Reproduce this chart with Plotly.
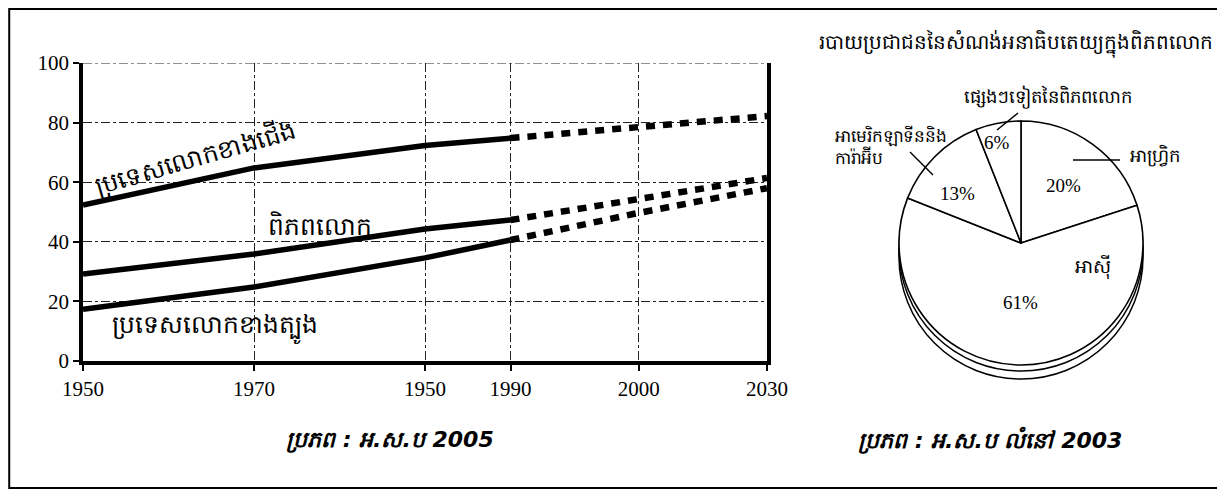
import plotly.graph_objects as go

# ---------------- data ----------------
tick_years = [1950, 1970, 1990, 2000, 2015, 2030]
tick_text = ["1950", "1970", "1950", "1990", "2000", "2030"]
y_ticks = [0, 20, 40, 60, 80, 100]

years_obs = [1950, 1970, 1990, 2000]
north_obs = [52.3, 64.8, 72.3, 74.8]
world_obs = [29.2, 35.9, 44.3, 47.3]
south_obs = [17.4, 24.8, 34.6, 40.6]

years_proj = [2000, 2015, 2030]
north_proj = [74.8, 78.5, 82.2]
world_proj = [47.3, 54.4, 61.4]
south_proj = [40.6, 49.7, 58.0]

line_labels = ["ប្រទេសលោកខាងជើង", "ពិភពលោក", "ប្រទេសលោកខាងត្បូង"]

pie_title = "របាយប្រជាជននៃសំណង់អនាធិបតេយ្យក្នុងពិភពលោក"
pie_labels = ["អាហ្វ្រិក", "អាស៊ី", "អាមេរិកឡាទីននិង<br>ការ៉ាអ៊ីប", "ផ្សេងៗទៀតនៃពិភពលោក"]
pie_values = [20, 61, 13, 6]

source_left = "ប្រភព : អ.ស.ប 2005"
source_right = "ប្រភព : អ.ស.ប លំនៅ 2003"

# ---------------- figure ----------------
# the page body adds an 8px offset; the figure fills the rest of the window
OX, OY = 8, 8
W, H = 1225 - OX, 495 - OY
def px(x):
    return (x - OX) / W
def py(y):
    return 1 - (y - OY) / H

SERIF = "Liberation Serif, Times New Roman, serif"
fig = go.Figure()

solid = dict(color="black", width=5.5)
dashed = dict(color="black", width=6.5, dash="9px,8px")
for ys_obs, ys_proj in [(north_obs, north_proj), (world_obs, world_proj), (south_obs, south_proj)]:
    fig.add_trace(go.Scatter(x=years_obs, y=ys_obs, mode="lines", line=solid,
                             showlegend=False, hoverinfo="skip"))
    fig.add_trace(go.Scatter(x=years_proj, y=ys_proj, mode="lines", line=dashed,
                             showlegend=False, hoverinfo="skip"))

fig.add_trace(go.Pie(
    labels=pie_labels, values=pie_values, sort=False, direction="clockwise",
    rotation=0, textinfo="none", hoverinfo="label+percent",
    marker=dict(colors=["white"] * 4, line=dict(color="black", width=1.6)),
    domain=dict(x=[px(899), px(1143)], y=[py(365), py(121)]),
    showlegend=False,
))

fig.update_layout(
    width=W, height=H,
    margin=dict(l=0, r=0, t=0, b=0, autoexpand=False),
    paper_bgcolor="white", plot_bgcolor="white",
    font=dict(family=SERIF, color="black", size=18),
    xaxis=dict(
        domain=[px(83), px(767)], range=[1950, 2030],
        tickmode="array", tickvals=tick_years, ticktext=tick_text,
        ticks="outside", ticklen=6, tickwidth=1.5, tickcolor="black",
        showline=True, linecolor="black", linewidth=3.5,
        showgrid=True, gridcolor="#222", gridwidth=1, griddash="dashdot",
        tickfont=dict(family=SERIF, size=21), zeroline=False, automargin=False,
    ),
    yaxis=dict(
        domain=[py(361), py(63)], range=[0, 100],
        tickmode="array", tickvals=y_ticks,
        ticks="outside", ticklen=6, tickwidth=1.5, tickcolor="black",
        showline=True, linecolor="black", linewidth=3.5, mirror=True,
        showgrid=True, gridcolor="#222", gridwidth=1, griddash="dashdot",
        tickfont=dict(family=SERIF, size=21), zeroline=False, automargin=False,
    ),
)

# top gridline at 100 (drawn at the edge of the plot area)
fig.add_shape(type="line", xref="x domain", yref="y", x0=0, x1=1, y0=100, y1=100,
              line=dict(color="#222", width=1.2, dash="dashdot"))

# 3D rim of the pie
pie_x0, pie_x1, pie_y0, pie_y1 = 899, 1143, 121, 365
for off in (14, 6):
    fig.add_shape(type="circle", xref="paper", yref="paper", layer="below",
                  x0=px(pie_x0), x1=px(pie_x1), y0=py(pie_y1 + off), y1=py(pie_y0 + off),
                  line=dict(color="black", width=1.5), fillcolor="white")

# outer frame
fig.add_shape(type="rect", xref="paper", yref="paper",
              x0=0.001, x1=px(1220), y0=py(488), y1=0.998,
              line=dict(color="black", width=2))

def note(x, y, text, size, xref="paper", yref="paper", **kw):
    kw.setdefault("xanchor", "center")
    fig.add_annotation(x=x, y=y, xref=xref, yref=yref, text=text, showarrow=False,
                       yanchor="middle", font=dict(size=size, family=kw.pop("family", SERIF)),
                       **kw)

# line labels
note(1963.1, 68.0, line_labels[0], 25, xref="x", yref="y", textangle=-16)
note(1977.7, 45.6, line_labels[1], 25, xref="x", yref="y")
note(1965.4, 11.4, line_labels[2], 25, xref="x", yref="y")

# pie title
note(px(1016), py(43), pie_title, 20)

# pie percentages
pct_pos = [(1063, 185), (1020, 302), (957, 193), (997, 143)]
for (xx, yy), v in zip(pct_pos, pie_values):
    note(px(xx), py(yy), f"{v}%", 19)

# pie category labels
note(px(1093), py(267), pie_labels[1], 19)
note(px(1128), py(155), pie_labels[0], 18, xanchor="left")
note(px(1048), py(97), pie_labels[3], 18)
note(px(833), py(146), pie_labels[2], 17, xanchor="left", align="left")

# leader lines
for (a, b, c, d) in [(1073, 160, 1120, 160), (1018, 113, 997, 130), (910, 152, 933, 175)]:
    fig.add_shape(type="line", xref="paper", yref="paper",
                  x0=px(a), y0=py(b), x1=px(c), y1=py(d),
                  line=dict(color="black", width=1.5))

# sources
for xx, txt in [(390, source_left), (990, source_right)]:
    note(px(xx), py(440), f"<b><i>{txt}</i></b>", 22, family="DejaVu Sans, sans-serif")

fig.write_html("out.html")
